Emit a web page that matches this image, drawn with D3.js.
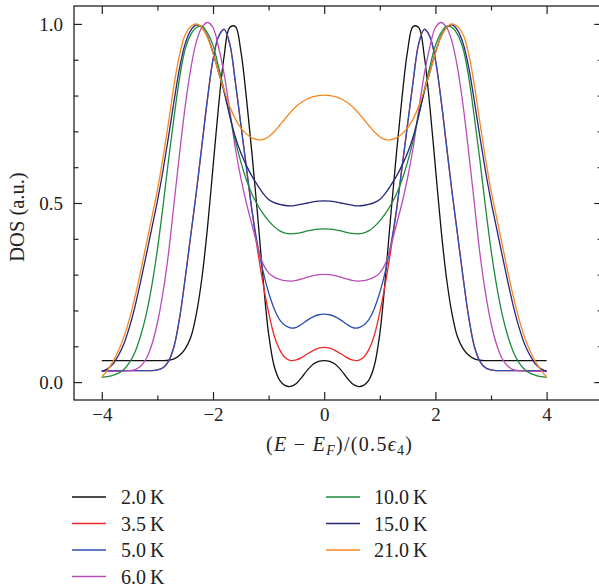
<!DOCTYPE html>
<html><head><meta charset="utf-8">
<script src="https://cdn.jsdelivr.net/npm/d3@7"></script>
<style>body{margin:0;background:#fff}svg{display:block}text{font-family:"Liberation Serif","Times New Roman",serif;fill:#222}</style>
</head><body><svg id="c" width="599" height="587"></svg>
<script>
// ---- data ----
const energies = [-4.0,-3.9,-3.8,-3.7,-3.6,-3.5,-3.4,-3.3,-3.2,-3.1,-3.0,-2.9,-2.8,-2.7,-2.6,-2.5,-2.4,-2.3,-2.2,-2.1,-2.0,-1.9,-1.8,-1.7,-1.6,-1.5,-1.4,-1.3,-1.2,-1.1,-1.0,-0.9,-0.8,-0.7,-0.6,-0.5,-0.4,-0.3,-0.2,-0.1,0.0,0.1,0.2,0.3,0.4,0.5,0.6,0.7,0.8,0.9,1.0,1.1,1.2,1.3,1.4,1.5,1.6,1.7,1.8,1.9,2.0,2.1,2.2,2.3,2.4,2.5,2.6,2.7,2.8,2.9,3.0,3.1,3.2,3.3,3.4,3.5,3.6,3.7,3.8,3.9,4.0];
const temperatures = ["2.0 K","3.5 K","5.0 K","6.0 K","10.0 K","15.0 K","21.0 K"];
const colors = ["#111111","#ee2a2a","#2d4fb4","#b84db8","#1e8a3c","#25267a","#f7861e"];
const dos2K = [0.06,0.06,0.06,0.06,0.06,0.06,0.06,0.06,0.06,0.06,0.06,0.06,0.061,0.065,0.075,0.093,0.125,0.19,0.29,0.43,0.6,0.77,0.91,0.99,0.993,0.925,0.795,0.64,0.47,0.29,0.135,0.045,0.005,-0.01,-0.012,-0.004,0.014,0.034,0.05,0.058,0.06,
 0.058,0.05,0.034,0.014,-0.004,-0.012,-0.01,0.005,0.045,0.135,0.29,0.47,0.64,0.795,0.925,0.993,0.99,0.91,0.77,0.6,0.43,0.29,0.19,0.125,0.093,0.075,0.065,0.061,0.06,0.06,0.06,0.06,0.06,0.06,0.06,0.06,0.06,0.06,0.06,0.06];
const dos3p5K = [0.032,0.032,0.032,0.032,0.032,0.032,0.032,0.032,0.032,0.032,0.034,0.04,0.058,0.1,0.18,0.29,0.41,0.53,0.66,0.79,0.9,0.965,0.985,0.945,0.84,0.72,0.6,0.48,0.37,0.275,0.195,0.13,0.09,0.068,0.06,0.062,0.069,0.079,0.088,0.095,0.097,
 0.095,0.088,0.079,0.069,0.062,0.06,0.068,0.09,0.13,0.195,0.275,0.37,0.48,0.6,0.72,0.84,0.945,0.985,0.965,0.9,0.79,0.66,0.53,0.41,0.29,0.18,0.1,0.058,0.04,0.034,0.032,0.032,0.032,0.032,0.032,0.032,0.032,0.032,0.032,0.032];
const dos5K = [0.032,0.032,0.032,0.032,0.032,0.032,0.032,0.032,0.032,0.032,0.034,0.04,0.058,0.1,0.18,0.29,0.41,0.53,0.66,0.79,0.9,0.965,0.985,0.945,0.84,0.72,0.6,0.48,0.385,0.31,0.25,0.205,0.174,0.158,0.151,0.153,0.162,0.173,0.182,0.188,0.19,
 0.188,0.182,0.173,0.162,0.153,0.151,0.158,0.174,0.205,0.25,0.31,0.385,0.48,0.6,0.72,0.84,0.945,0.985,0.965,0.9,0.79,0.66,0.53,0.41,0.29,0.18,0.1,0.058,0.04,0.034,0.032,0.032,0.032,0.032,0.032,0.032,0.032,0.032,0.032,0.032];
const dos6K = [0.03,0.03,0.03,0.03,0.031,0.032,0.035,0.045,0.066,0.105,0.165,0.25,0.36,0.5,0.64,0.77,0.875,0.95,0.99,1.004,0.99,0.935,0.86,0.76,0.655,0.57,0.5,0.44,0.38,0.33,0.305,0.293,0.287,0.283,0.282,0.284,0.288,0.293,0.297,0.3,0.301,
 0.3,0.297,0.293,0.288,0.284,0.282,0.283,0.287,0.293,0.305,0.33,0.38,0.44,0.5,0.57,0.655,0.76,0.86,0.935,0.99,1.004,0.99,0.95,0.875,0.77,0.64,0.5,0.36,0.25,0.165,0.105,0.066,0.045,0.035,0.032,0.031,0.03,0.03,0.03,0.03];
const dos10K = [0.013,0.015,0.019,0.025,0.036,0.055,0.085,0.13,0.19,0.27,0.37,0.49,0.62,0.74,0.85,0.93,0.97,0.99,0.994,0.975,0.94,0.88,0.815,0.745,0.675,0.615,0.565,0.525,0.495,0.47,0.45,0.434,0.422,0.416,0.414,0.415,0.418,0.422,0.425,0.427,0.428,
 0.427,0.425,0.422,0.418,0.415,0.414,0.416,0.422,0.434,0.45,0.47,0.495,0.525,0.565,0.615,0.675,0.745,0.815,0.88,0.94,0.975,0.994,0.99,0.97,0.93,0.85,0.74,0.62,0.49,0.37,0.27,0.19,0.13,0.085,0.055,0.036,0.025,0.019,0.015,0.013];
const dos15K = [0.03,0.037,0.05,0.075,0.108,0.155,0.213,0.282,0.355,0.43,0.505,0.59,0.685,0.785,0.878,0.945,0.982,0.997,0.99,0.965,0.92,0.865,0.81,0.745,0.685,0.64,0.605,0.575,0.55,0.527,0.51,0.501,0.496,0.493,0.492,0.494,0.497,0.5,0.503,0.505,0.506,
 0.505,0.503,0.5,0.497,0.494,0.492,0.493,0.496,0.501,0.51,0.527,0.55,0.575,0.605,0.64,0.685,0.745,0.81,0.865,0.92,0.965,0.99,0.997,0.982,0.945,0.878,0.785,0.685,0.59,0.505,0.43,0.355,0.282,0.213,0.155,0.108,0.075,0.05,0.037,0.03];
const dos21K = [0.015,0.033,0.057,0.088,0.127,0.178,0.24,0.31,0.385,0.46,0.535,0.625,0.725,0.83,0.915,0.97,0.993,1.0,0.99,0.963,0.918,0.865,0.815,0.77,0.735,0.71,0.693,0.682,0.677,0.677,0.685,0.699,0.717,0.736,0.754,0.77,0.782,0.791,0.797,0.8,0.801,
 0.8,0.797,0.791,0.782,0.77,0.754,0.736,0.717,0.699,0.685,0.677,0.677,0.682,0.693,0.71,0.735,0.77,0.815,0.865,0.918,0.963,0.99,1.0,0.993,0.97,0.915,0.83,0.725,0.625,0.535,0.46,0.385,0.31,0.24,0.178,0.127,0.088,0.057,0.033,0.015];
const xMajorTicks = [-4,-2,0,2,4];
const xMinorTicks = [-3,-1,1,3];
const yMajorTicks = [0,0.5,1.0];
const yMinorTicks = [0.1,0.2,0.3,0.4,0.6,0.7,0.8,0.9];

const allSeries = [dos2K,dos3p5K,dos5K,dos6K,dos10K,dos15K,dos21K];

// ---- layout ----
const svg = d3.select("#c");
const L = 74, R = 602.2, T = 6, B = 400;
const x = d3.scaleLinear().domain([-4.5, 5.0]).range([L, R]);
const y = d3.scaleLinear().domain([-0.05, 1.05]).range([B, T]);

// curves
const line = d3.line().x((d,i)=>x(energies[i])).y(d=>y(d)).curve(d3.curveCatmullRom.alpha(0.5));
const g = svg.append("g");
allSeries.forEach((s,k)=>{
  g.append("path").attr("d", line(s)).attr("fill","none")
   .attr("stroke", colors[k]).attr("stroke-width",1.3);
});

// axes with inward ticks
function styleAxis(sel){ sel.select(".domain").remove(); sel.selectAll("line").attr("stroke","#222").attr("stroke-width",1.2); }
const tfs = 19, fs = 20;
svg.append("g").attr("transform",`translate(0,${B})`)
  .call(d3.axisBottom(x).tickValues(xMajorTicks).tickSize(-8).tickPadding(8).tickFormat(d3.format("d")))
  .call(styleAxis).selectAll("text").attr("font-size",tfs).attr("font-family","Liberation Serif").attr("fill","#222");
svg.append("g").attr("transform",`translate(0,${B})`)
  .call(d3.axisBottom(x).tickValues(xMinorTicks).tickSize(-4.5).tickFormat("")).call(styleAxis);
svg.append("g").attr("transform",`translate(0,${T})`)
  .call(d3.axisTop(x).tickValues(xMajorTicks).tickSize(-8).tickFormat("")).call(styleAxis);
svg.append("g").attr("transform",`translate(0,${T})`)
  .call(d3.axisTop(x).tickValues(xMinorTicks).tickSize(-4.5).tickFormat("")).call(styleAxis);
svg.append("g").attr("transform",`translate(${L},0)`)
  .call(d3.axisLeft(y).tickValues(yMajorTicks).tickSize(-8).tickPadding(11).tickFormat(d3.format(".1f")))
  .call(styleAxis).selectAll("text").attr("font-size",tfs).attr("font-family","Liberation Serif").attr("fill","#222");
svg.append("g").attr("transform",`translate(${L},0)`)
  .call(d3.axisLeft(y).tickValues(yMinorTicks).tickSize(-4.5).tickFormat("")).call(styleAxis);
svg.append("g").attr("transform",`translate(${R},0)`)
  .call(d3.axisRight(y).tickValues(yMajorTicks).tickSize(-8).tickFormat("")).call(styleAxis);
svg.append("g").attr("transform",`translate(${R},0)`)
  .call(d3.axisRight(y).tickValues(yMinorTicks).tickSize(-4.5).tickFormat("")).call(styleAxis);

// frame
svg.append("rect").attr("x",L).attr("y",T).attr("width",R-L).attr("height",B-T)
  .attr("fill","none").attr("stroke","#222").attr("stroke-width",1.3);

// axis titles
svg.append("text").attr("transform","translate(24,217) rotate(-90)")
  .attr("text-anchor","middle").attr("font-size",20.5).text("DOS (a.u.)");
const xt = svg.append("text").attr("x",266).attr("y",451).attr("text-anchor","start").attr("font-size",fs)
  .attr("textLength",146).attr("lengthAdjust","spacing");
xt.append("tspan").text("(");
xt.append("tspan").attr("font-style","italic").text("E");
xt.append("tspan").text(" \u2212 ");
xt.append("tspan").attr("font-style","italic").text("E");
xt.append("tspan").attr("font-style","italic").attr("font-size",14).attr("dy",4).text("F");
xt.append("tspan").attr("dy",-4).text(")/(0.5");
xt.append("tspan").attr("font-style","italic").text("\u03F5");
xt.append("tspan").attr("font-size",14).attr("dy",4).text("4");
xt.append("tspan").attr("dy",-4).text(")");

// legend
const legendRows = [497, 523.5, 550, 576.5];
temperatures.forEach((t,k)=>{
  const col = k < 4 ? 0 : 1;
  const row = k < 4 ? k : k - 4;
  const x0 = col === 0 ? 72 : 326, xt0 = col === 0 ? 121 : 374;
  const yy = legendRows[row];
  svg.append("line").attr("x1",x0).attr("x2",x0+34).attr("y1",yy).attr("y2",yy)
    .attr("stroke",colors[k]).attr("stroke-width",1.3);
  svg.append("text").attr("x",xt0).attr("y",yy).attr("dy","0.35em").attr("font-size",fs)
    .text(t.replace(" ","\u2009"));
});
</script>
</body></html>
